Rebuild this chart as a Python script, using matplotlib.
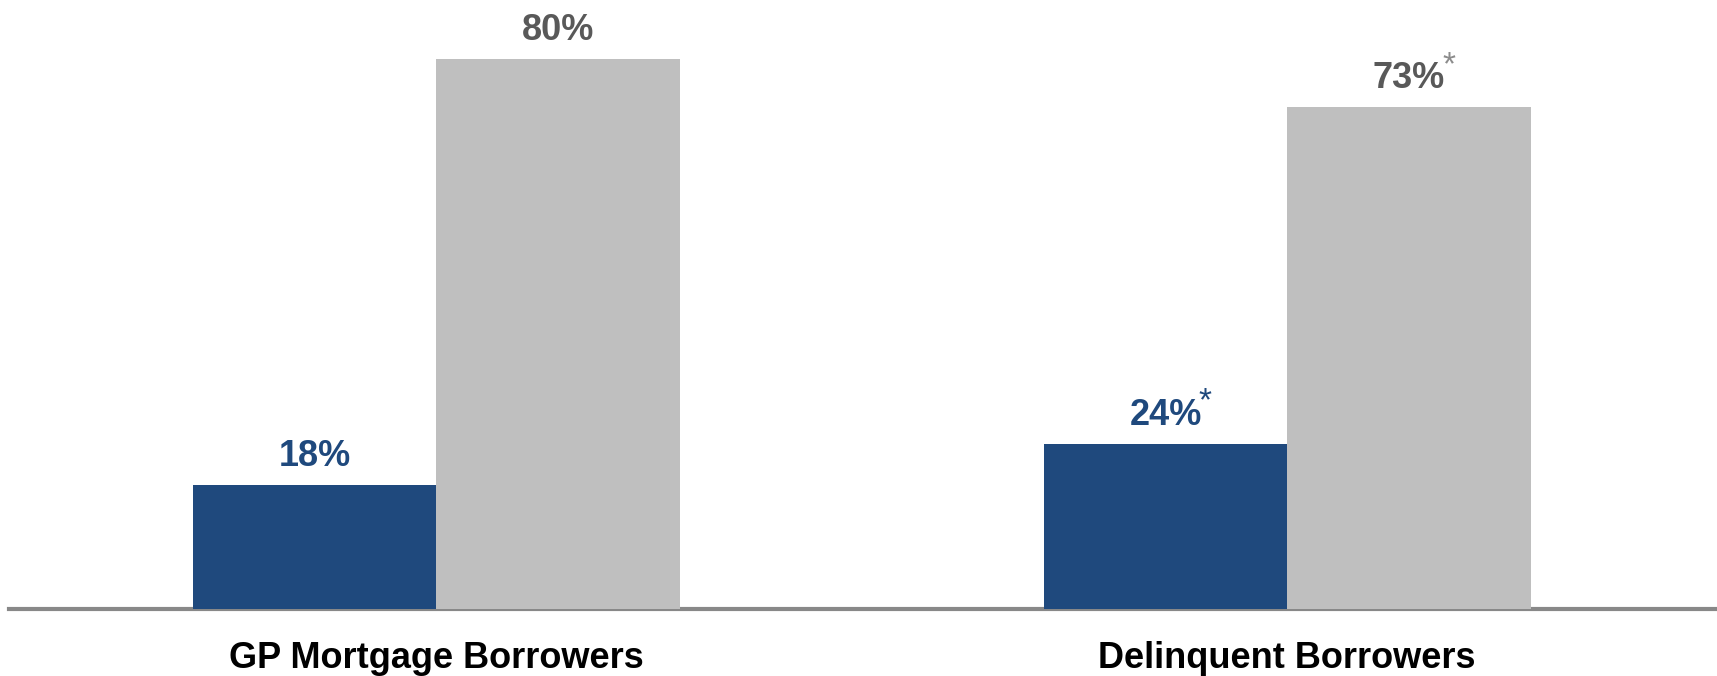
import matplotlib.pyplot as plt
import numpy as np

categories = ["GP Mortgage Borrowers", "Delinquent Borrowers"]
blue_vals = [18, 24]
gray_vals = [80, 73]
blue_labels = ["18%", "24%"]
gray_labels = ["80%", "73%"]
blue_star = [False, True]
gray_star = [False, True]

blue = '#1F497D'
gray = '#BFBFBF'
label_gray = '#595959'
star_gray = '#8C8C8C'

val_font = ['Liberation Sans', 'DejaVu Sans']
cat_font = ['Liberation Sans', 'DejaVu Sans']

fig = plt.figure(figsize=(17.17, 6.76), dpi=100)
ax = fig.add_axes([9 / 1717, 67 / 676, 1 - 9 / 1717, 609 / 676])

x = np.arange(len(categories))
w = 0.286
b1 = ax.bar(x - w / 2, blue_vals, w, color=blue, zorder=3)
b2 = ax.bar(x + w / 2, gray_vals, w, color=gray, zorder=3)

ax.set_xlim(-0.502, 1.505)
ax.set_ylim(0, 88.6)

for bars, labels, stars, col, scol in [(b1, blue_labels, blue_star, blue, blue),
                                       (b2, gray_labels, gray_star, label_gray, star_gray)]:
    for rect, lab, st in zip(bars, labels, stars):
        t = ax.annotate(lab, (rect.get_x() + rect.get_width() / 2, rect.get_height()),
                        xytext=(0, 8), textcoords='offset points', ha='center', va='bottom',
                        fontsize=26, fontweight='bold', color=col, family=val_font)
        if st:
            ax.annotate('*', xy=(1, 1), xycoords=t, xytext=(-2, -3), textcoords='offset points',
                        ha='left', va='center', fontsize=24, color=scol, family=cat_font)

for s in ['left', 'right', 'top']:
    ax.spines[s].set_visible(False)
ax.spines['bottom'].set_color('#888888')
ax.spines['bottom'].set_linewidth(3)
ax.spines['bottom'].set_zorder(2)
ax.set_yticks([])
ax.set_xticks(x)
ax.set_xticklabels(categories, fontsize=26, fontweight='bold', family=cat_font, color='black')
ax.tick_params(axis='x', length=0, pad=23)

fig.savefig('out.png', dpi=100)
